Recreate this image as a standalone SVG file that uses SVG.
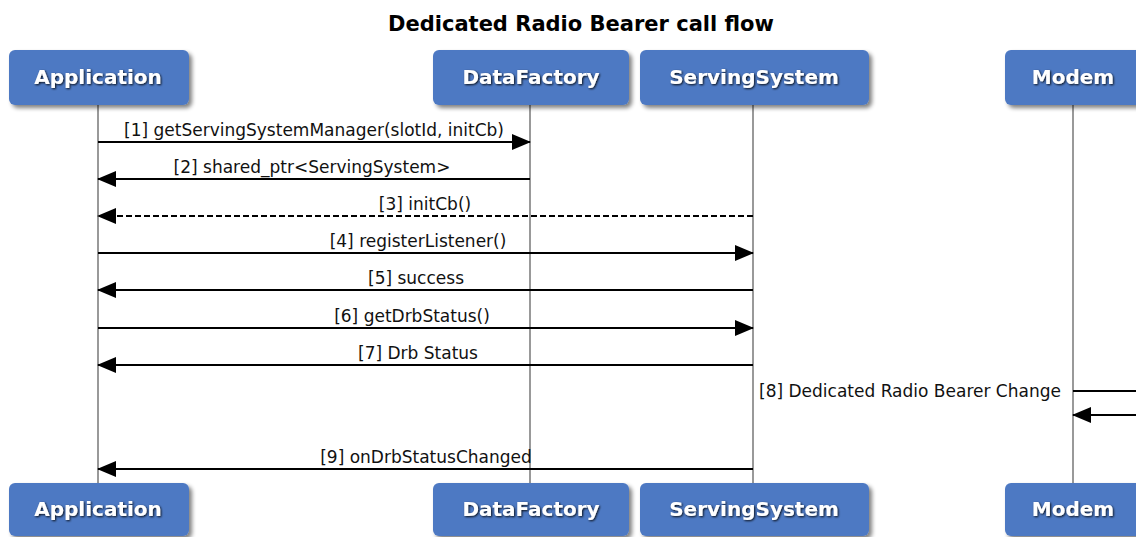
<svg xmlns="http://www.w3.org/2000/svg" width="1136" height="537" viewBox="0 0 1136 537">
<style>
.box{fill:#4e79c3;filter:url(#sh)}
.bl{font-family:"DejaVu Sans",sans-serif;font-weight:bold;font-size:20px;fill:#fff;text-anchor:middle;filter:url(#tsh)}
.life{stroke:#999;stroke-width:2}
.msg{stroke:#000;stroke-width:2;fill:none}
.dash{stroke-dasharray:6,3}
.lbl{font-family:"DejaVu Sans",sans-serif;font-size:17px;fill:#111;text-anchor:middle}
.title{font-family:"DejaVu Sans",sans-serif;font-weight:bold;font-size:21px;fill:#000;text-anchor:middle}
</style>
<defs>
<filter id="sh" x="-10%" y="-20%" width="130%" height="150%">
<feGaussianBlur in="SourceAlpha" stdDeviation="2"/>
<feOffset dx="3" dy="3" result="b"/>
<feComponentTransfer><feFuncA type="linear" slope="0.5"/></feComponentTransfer>
<feMerge><feMergeNode/><feMergeNode in="SourceGraphic"/></feMerge>
</filter>
<filter id="tsh" x="-10%" y="-30%" width="120%" height="160%">
<feGaussianBlur in="SourceAlpha" stdDeviation="1.2"/>
<feOffset dx="1" dy="1"/>
<feComponentTransfer><feFuncA type="linear" slope="0.9"/></feComponentTransfer>
<feMerge><feMergeNode/><feMergeNode in="SourceGraphic"/></feMerge>
</filter>
<marker id="ah" markerWidth="19" markerHeight="16" refX="18" refY="8" orient="auto" markerUnits="userSpaceOnUse">
<path d="M0,0 L19,8 L0,16 Z" fill="#000"/>
</marker>
</defs>
<rect width="1136" height="537" fill="#fff"/>
<text class="title" x="581" y="31">Dedicated Radio Bearer call flow</text>
<g id="lifelines">
<line class="life" x1="98" y1="105" x2="98" y2="483"/>
<line class="life" x1="530" y1="105" x2="530" y2="483"/>
<line class="life" x1="753" y1="105" x2="753" y2="483"/>
<line class="life" x1="1073" y1="105" x2="1073" y2="483"/>
</g>
<g id="Application">
<rect class="box" x="9" y="50" width="180" height="55" rx="6"/>
<text class="bl" x="98" y="84">Application</text>
</g>
<g id="DataFactory">
<rect class="box" x="433" y="50" width="196" height="55" rx="6"/>
<text class="bl" x="531" y="84">DataFactory</text>
</g>
<g id="ServingSystem">
<rect class="box" x="640" y="50" width="229" height="55" rx="6"/>
<text class="bl" x="754" y="84">ServingSystem</text>
</g>
<g id="Modem">
<rect class="box" x="1005" y="50" width="150" height="55" rx="6"/>
<text class="bl" x="1073" y="84">Modem</text>
</g>
<g id="Application-bottom">
<rect class="box" x="9" y="483" width="180" height="53" rx="6"/>
<text class="bl" x="98" y="516">Application</text>
</g>
<g id="DataFactory-bottom">
<rect class="box" x="433" y="483" width="196" height="53" rx="6"/>
<text class="bl" x="531" y="516">DataFactory</text>
</g>
<g id="ServingSystem-bottom">
<rect class="box" x="640" y="483" width="229" height="53" rx="6"/>
<text class="bl" x="754" y="516">ServingSystem</text>
</g>
<g id="Modem-bottom">
<rect class="box" x="1005" y="483" width="150" height="53" rx="6"/>
<text class="bl" x="1073" y="516">Modem</text>
</g>
<g id="connectors">
<line class="msg" x1="98" y1="142" x2="530" y2="142" marker-end="url(#ah)"/>
<text class="lbl" x="314" y="136">[1] getServingSystemManager(slotId, initCb)</text>
<line class="msg" x1="530" y1="179" x2="98" y2="179" marker-end="url(#ah)"/>
<text class="lbl" x="312" y="173">[2] shared_ptr&lt;ServingSystem&gt;</text>
<line class="msg dash" x1="753" y1="216" x2="98" y2="216" marker-end="url(#ah)"/>
<text class="lbl" x="425" y="210">[3] initCb()</text>
<line class="msg" x1="98" y1="253" x2="753" y2="253" marker-end="url(#ah)"/>
<text class="lbl" x="418" y="247">[4] registerListener()</text>
<line class="msg" x1="753" y1="290" x2="98" y2="290" marker-end="url(#ah)"/>
<text class="lbl" x="416" y="284">[5] success</text>
<line class="msg" x1="98" y1="328" x2="753" y2="328" marker-end="url(#ah)"/>
<text class="lbl" x="412" y="322">[6] getDrbStatus()</text>
<line class="msg" x1="753" y1="365" x2="98" y2="365" marker-end="url(#ah)"/>
<text class="lbl" x="418" y="359">[7] Drb Status</text>
<polyline class="msg" points="1073,391 1140,391 1140,415 1073,415" marker-end="url(#ah)"/>
<text class="lbl" x="910" y="397">[8] Dedicated Radio Bearer Change</text>
<line class="msg" x1="753" y1="469" x2="98" y2="469" marker-end="url(#ah)"/>
<text class="lbl" x="426" y="463">[9] onDrbStatusChanged</text>
</g>
</svg>
